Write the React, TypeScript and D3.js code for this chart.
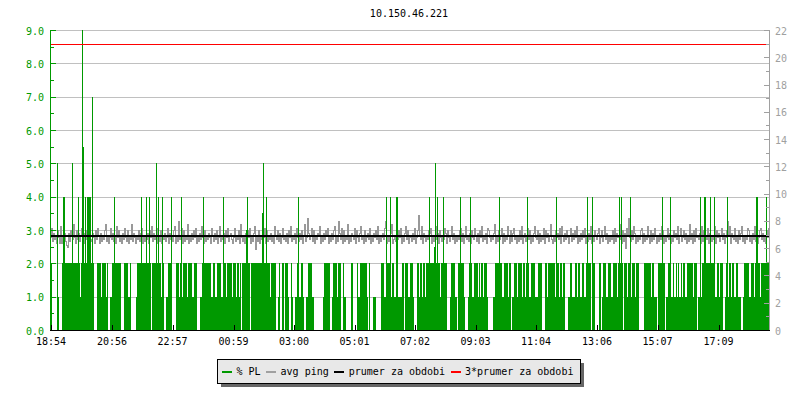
import React from "react";
import * as d3 from "d3";

// ---------- data ----------
const TITLE = "10.150.46.221";
const START = new Date(2024, 0, 1, 18, 52, 0);
const STEP_MIN = 2; // one sample every 2 minutes, 720 samples = 24 h
const SAMPLE_COUNT = 720;

// % packet loss, run-length pairs [value, count], per 2-minute sample
const PL_RUNS_A = [[2,2],[0,5],[1,2],[0,3],[2,10],[1,1],[2,7],[1,1],[2,6],[1,1],[2,6],[0,3],[2,4],[1,1],[2,4],[1,1],[2,1],[0,2],[1,2],[2,9],[0,3],[2,4],[1,2],[2,1],[0,5],[1,1],[2,14],[0,1],[2,9],[1,2],[2,1],[0,2],[1,2],[2,4],[0,4],[2,3],[1,1],[2,2],[1,1],[2,4],[1,1],[2,4],[1,2],[2,3],[0,3],[1,2],[2,9],[1,2],[2,2],[1,2],[2,4],[1,2],[2,3],[1,1],[2,3]];
const PL_RUNS_B = [[2,2],[1,1],[2,3],[1,1],[2,2],[1,1],[2,1],[0,1],[2,8],[0,1],[2,15],[1,1],[2,3],[1,1],[2,5],[0,2],[1,1],[2,1],[0,2],[2,2],[0,1],[2,3],[1,1],[0,2],[2,1],[1,1],[0,2],[1,2],[2,1],[1,3],[2,2],[1,1],[0,2],[1,2],[2,4],[1,2],[0,9],[1,1],[2,6],[0,2],[1,1],[2,4],[1,1],[2,3],[0,2],[2,1],[1,2],[0,5],[2,2],[0,4],[2,1],[1,2],[2,7],[1,1],[0,1],[2,1],[0,3],[1,3],[0,5],[2,3],[1,3],[2,3],[1,2],[2,2],[1,2],[2,2],[1,4],[2,2],[0,1],[2,3],[1,2]];
const PL_RUNS_C = [[2,3],[1,1],[0,3],[2,2],[1,1],[2,2],[1,1],[2,2],[1,1],[2,11],[1,1],[2,2],[1,1],[2,6],[0,3],[1,1],[2,4],[1,2],[0,1],[2,2],[1,1],[2,3],[1,1],[0,3],[1,1],[2,3],[1,2],[2,4],[1,1],[2,1],[1,1],[2,2],[1,1],[2,3],[1,1],[0,5],[1,2],[2,4],[1,1],[2,2],[1,2],[2,4],[1,1],[2,2],[0,1],[1,2],[2,3],[1,1],[2,4],[1,1],[2,2],[1,1],[2,3],[1,2],[2,4],[1,3],[2,4],[0,3],[2,2],[1,1],[2,7],[1,1],[2,3],[1,1],[2,2],[1,1],[2,2],[0,3],[1,2],[2,2],[1,3],[2,2],[1,1],[2,2],[1,2],[2,2],[1,2],[2,4]];
const PL_RUNS_D = [[2,1],[0,1],[2,3],[0,4],[2,2],[0,1],[1,1],[2,3],[1,2],[2,3],[1,2],[2,4],[1,1],[2,5],[0,1],[2,3],[1,1],[2,3],[1,1],[2,3],[1,1],[2,3],[0,5],[2,7],[1,1],[2,2],[1,3],[0,1],[2,7],[0,1],[1,2],[2,2],[1,3],[2,1],[1,2],[2,1],[1,1],[2,1],[1,2],[2,1],[1,1],[2,2],[1,2],[2,6],[1,1],[2,3],[0,1],[1,4],[2,13],[1,2],[2,2],[1,1],[2,3],[0,2],[1,1],[2,2],[1,1],[2,2],[1,1],[2,2],[1,2],[2,2],[1,3],[0,2],[1,1],[2,5],[1,2],[2,3],[1,1],[2,5],[1,1],[2,9]];
// samples where the loss rose above 2 %: [sample index, value]
const PL_SPIKES = [[7,5],[13,4],[14,4],[22,5],[28,4],[32,9],[33,5.5],[35,4],[37,4],[38,4],[39,4],[40,4],[42,7],[64,4],[91,4],[96,4],[99,4],[106,5],[108,4],[112,4],[121,4],[131,4],[153,4],[173,4],[196,3],[197,4],[212,3.5],[213,5],[216,4],[248,4],[336,4],[340,4],[346,4],[347,4],[379,4],[384,2.5],[385,5],[387,4],[393,4],[410,4],[420,4],[449,4],[477,4],[506,4],[537,4],[542,4],[569,4],[571,4],[580,4],[612,4],[620,4],[650,4],[654,4],[655,4],[660,4],[664,4],[677,4],[706,4],[707,4],[716,4],[719,4]];

// avg ping in ms, one hex digit per sample: ms = 5.95 + digit * 0.15
const PING_CODES = [
  "6a48573963","b375842684","975c639584","7a6385947b","5486395a73","84659c4736",
  "a58473b694","7385a64937","5c48637594","8a36475839","6b4857a364","9375846a38",
  "5749b36485","7a39465c37","48596a3748","5b63947586","3a7485936b","4758396a47",
  "8536a47593","c64738596a","3748b56493","7586a39475","8463b75948","36a5748396",
  "b47583a648","5937c46385","7a4936587b","3648597a36","4859b37468","5a39475c36",
  "4875a39648","b57394685a","3748695b37","4685a93746","8c35748596","a3748b5936",
  "7485a36947","5b38647598","a36475b839","6475a83964","7b58364759","a4836b5748",
  "3965a74839","6b47583a96","4758c36495","7a38465b73","948a563749","5b36847a59",
  "3748b65938","475a396847","c53749685a","3b74859637","a48596b374","8596a37485",
  "b3649758a3","6947b58364","7593a48675","c39485a736","495b837465","9a38475b63",
  "9485a73648","5b93746a58","3749685b37","a46958374c","58394a6758","3b49675a38",
  "6475b39684","7a5836947b","3865a47395","8b46375a94","6385b47369","a5847396a4",
];
const PING_PEAKS = [[17,6.1],[128,8.0],[205,5.95],[257,8.2],[288,8.0],[335,8.0],[368,8.4],[575,6.0],[578,8.2],[677,8.0]];

const MEAN_PING = 6.9;
const TRIPLE_MEAN = 20.95;

const X_TICK_LABELS = ["18:54","20:56","22:57","00:59","03:00","05:01","07:02","09:03","11:04","13:06","15:07","17:09"];
const LEFT_TICKS = [0,1,2,3,4,5,6,7,8,9];
const LEFT_MINOR = [0.5,1.5,2.5,3.5,4.5,5.5,6.5,7.5,8.5];
const RIGHT_TICKS = [0,2,4,6,8,10,12,14,16,18,20,22];
const RIGHT_MINOR = [1,3,5,7,9,11,13,15,17,19,21];

const LEGEND_ITEMS = [
  { label: "% PL", color: "#009900" },
  { label: "avg ping", color: "#a0a0a0" },
  { label: "prumer za obdobi", color: "#000000" },
  { label: "3*prumer za obdobi", color: "#ff0000" },
];

// ---------- layout ----------
const W = 800, H = 400;
const M = { left: 50, right: 770, top: 30, bottom: 330 };
const FONT = "'DejaVu Sans Mono', 'Liberation Mono', monospace";
const GREEN = "#009900";
const GRAY = "#a0a0a0";

function expandRuns(runs: number[][]): number[] {
  const out: number[] = [];
  runs.forEach(([v, n]) => { for (let k = 0; k < n; k++) out.push(v); });
  return out;
}

export default function App() {
  const end = d3.timeMinute.offset(START, STEP_MIN * SAMPLE_COUNT);
  const x = d3.scaleTime().domain([START, end]).range([M.left, M.right]);
  const yL = d3.scaleLinear().domain([0, 9]).range([M.bottom, M.top]);
  const yR = d3.scaleLinear().domain([0, 22]).range([M.bottom, M.top]);

  const plValues = [...expandRuns(PL_RUNS_A), ...expandRuns(PL_RUNS_B), ...expandRuns(PL_RUNS_C), ...expandRuns(PL_RUNS_D)];
  PL_SPIKES.forEach(([i, v]) => { plValues[i] = v; });
  const pl = plValues.map((v, i) => ({ t: d3.timeMinute.offset(START, i * STEP_MIN), v }));
  pl.push({ t: end, v: plValues[plValues.length - 1] });

  const pingValues = PING_CODES.join("").split("").map((c) => 5.95 + parseInt(c, 16) * 0.15);
  PING_PEAKS.forEach(([i, v]) => { pingValues[i] = v; });
  const ping = pingValues.map((v, i) => ({ t: d3.timeMinute.offset(START, i * STEP_MIN), v }));

  const area = d3.area<{ t: Date; v: number }>()
    .x((d) => x(d.t))
    .y0(M.bottom)
    .y1((d) => yL(d.v))
    .curve(d3.curveStepAfter);
  const line = d3.line<{ t: Date; v: number }>()
    .x((d) => Math.round(x(d.t)) + 0.5)
    .y((d) => Math.round(yR(d.v)) + 0.5)
    .curve(d3.curveStepAfter);

  const tickDates = X_TICK_LABELS.map((s) => {
    const [h, m] = s.split(":").map(Number);
    const d = new Date(START);
    d.setHours(h, m, 0, 0);
    if (d < START) d.setDate(d.getDate() + 1);
    return d;
  });
  const fmt = d3.timeFormat("%H:%M");

  // legend layout
  const charW = 6.02;
  let cursor = 222;
  const legendLayout = LEGEND_ITEMS.map((it) => {
    const item = { ...it, lx: cursor, tx: cursor + 14.5 };
    cursor = item.tx + it.label.length * charW + 5.5;
    return item;
  });
  const legendX = 217.5, legendY = 359.5, legendW = 363, legendH = 24;

  return (
    <svg width={W} height={H} style={{ position: "absolute", left: 0, top: 0, background: "#fff" }} fontFamily={FONT} fontSize={10}>
      <rect x={0} y={0} width={W} height={H} fill="#fff" />
      <text x={409} y={17} textAnchor="middle" fill="#000">{TITLE}</text>

      {/* grid */}
      <g stroke="#c0c0c0" shapeRendering="crispEdges">
        {LEFT_TICKS.filter((t) => t > 0).map((t) => (
          <line key={t} x1={M.left} x2={M.right} y1={Math.round(yL(t)) + 0.5} y2={Math.round(yL(t)) + 0.5} />
        ))}
      </g>

      {/* avg ping */}
      <path d={line(ping) || ""} fill="none" stroke="#999999" strokeWidth={1} shapeRendering="crispEdges" />

      {/* packet loss */}
      <path d={area(pl) || ""} fill={GREEN} shapeRendering="crispEdges" />

      {/* mean lines */}
      <line x1={M.left} x2={M.right} y1={yR(MEAN_PING)} y2={yR(MEAN_PING)} stroke="#000" strokeWidth={2} shapeRendering="crispEdges" />
      <line x1={M.left} x2={M.right - 3} y1={Math.round(yR(TRIPLE_MEAN)) + 0.5} y2={Math.round(yR(TRIPLE_MEAN)) + 0.5} stroke="#ff0000" strokeWidth={1} shapeRendering="crispEdges" />

      {/* left axis */}
      <g shapeRendering="crispEdges" stroke={GREEN}>
        <line x1={M.left + 0.5} x2={M.left + 0.5} y1={M.top} y2={M.bottom} />
        {LEFT_TICKS.map((t) => (
          <line key={t} x1={M.left} x2={M.left + 6} y1={Math.round(yL(t)) + 0.5} y2={Math.round(yL(t)) + 0.5} />
        ))}
        {LEFT_MINOR.map((t) => (
          <line key={t} x1={M.left} x2={M.left + 4} y1={Math.round(yL(t)) + 0.5} y2={Math.round(yL(t)) + 0.5} />
        ))}
      </g>
      <g fill={GREEN} textAnchor="end">
        {LEFT_TICKS.map((t) => (
          <text key={t} x={44} y={yL(t) + 4.5}>{t.toFixed(1)}</text>
        ))}
      </g>

      {/* right axis */}
      <g shapeRendering="crispEdges" stroke={GRAY}>
        <line x1={M.right - 0.5} x2={M.right - 0.5} y1={M.top} y2={M.bottom} />
        {RIGHT_TICKS.map((t) => (
          <line key={t} x1={M.right - 6} x2={M.right} y1={Math.round(yR(t)) + 0.5} y2={Math.round(yR(t)) + 0.5} />
        ))}
        {RIGHT_MINOR.map((t) => (
          <line key={t} x1={M.right - 4} x2={M.right} y1={Math.round(yR(t)) + 0.5} y2={Math.round(yR(t)) + 0.5} />
        ))}
      </g>
      <g fill={GRAY} textAnchor="start">
        {RIGHT_TICKS.map((t) => (
          <text key={t} x={775} y={yR(t) + 4.5}>{t}</text>
        ))}
      </g>

      {/* bottom axis */}
      <g shapeRendering="crispEdges" stroke="#000">
        <line x1={M.left} x2={M.right} y1={M.bottom + 0.5} y2={M.bottom + 0.5} />
        {tickDates.map((d, i) => (
          <line key={i} x1={Math.round(x(d)) + 0.5} x2={Math.round(x(d)) + 0.5} y1={M.bottom - 5} y2={M.bottom} />
        ))}
      </g>
      <g fill="#000" textAnchor="middle">
        {tickDates.map((d, i) => (
          <text key={i} x={x(d)} y={345}>{fmt(d)}</text>
        ))}
      </g>

      {/* legend */}
      <rect x={legendX + 3} y={legendY + 3} width={legendW} height={legendH} fill="#666" shapeRendering="crispEdges" />
      <rect x={legendX} y={legendY} width={legendW} height={legendH} fill="#e8e8e8" stroke="#000" strokeWidth={1} shapeRendering="crispEdges" />
      {legendLayout.map((it) => (
        <g key={it.label}>
          <rect x={it.lx} y={371} width={10} height={2} fill={it.color} shapeRendering="crispEdges" />
          <text x={it.tx} y={375} fill="#000">{it.label}</text>
        </g>
      ))}
    </svg>
  );
}
